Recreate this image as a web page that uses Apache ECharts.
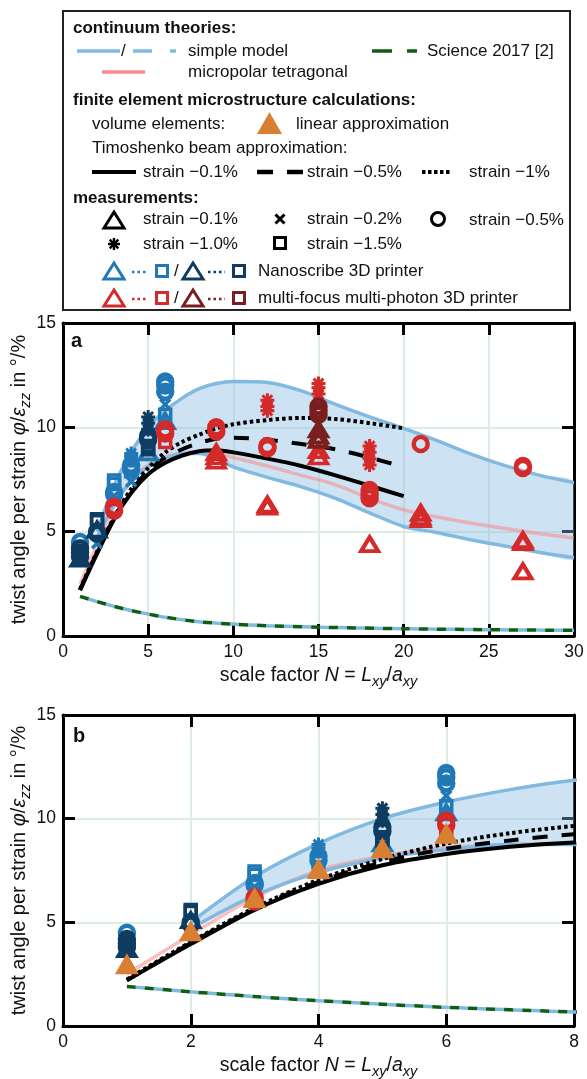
<!DOCTYPE html>
<html>
<head>
<meta charset="utf-8">
<script src="https://cdn.jsdelivr.net/npm/echarts@6/dist/echarts.min.js"></script>
<style>
html,body{margin:0;padding:0;background:#fff;}
#chart{width:587px;height:1079px;}
</style>
</head>
<body>
<div id="chart"></div>
<script>
// continuum theories
var bandN   = [2,3,4,5,6,7,8,9,10,12,14,16,18,20,22,24,26,28,30];
var bandUp  = [5.0,7.2,8.8,10.0,10.8,11.4,11.85,12.1,12.2,12.15,11.75,11.1,10.5,9.95,9.35,8.7,8.15,7.7,7.35];
var bandLow = [4.7,6.3,7.4,8.1,8.5,8.75,8.75,8.5,8.1,7.6,7.15,6.6,5.9,5.25,4.95,4.6,4.3,4.0,3.75];
var polarN  = [1,2,3,4,5,6,7,8,9,10,12,14,16,18,20,22,24,26,28,30];
var polarV  = [2.5,4.4,6.2,7.5,8.2,8.6,8.75,8.8,8.75,8.55,8.15,7.7,7.25,6.6,6.05,5.7,5.4,5.15,4.9,4.7];
var sciN    = [1,2,3,4,5,6,8,10,12,15,20,25,30];
var sciV    = [1.9,1.65,1.42,1.22,1.05,0.9,0.68,0.57,0.49,0.42,0.35,0.3,0.27];
// Timoshenko beam
var beamN   = [1,2,3,4,5,6,7,8,9,10,12,14,16,18,20];
var beam01  = [2.2,3.95,5.6,6.85,7.75,8.3,8.65,8.85,8.9,8.8,8.5,8.15,7.7,7.2,6.7];
var beam05  = [2.2,4.0,5.65,6.95,7.9,8.55,8.95,9.25,9.45,9.5,9.4,9.2,8.95,8.55,8.1];
var beam1   = [2.25,4.05,5.7,7.05,8.05,8.8,9.3,9.65,9.95,10.15,10.35,10.45,10.4,10.2,9.95];
// volume elements, linear approximation (panel b)
var volN    = [1,2,3,4,5,6];
var volV    = [3.0,4.6,6.2,7.6,8.6,9.3];
// measurements [N, twist]
var nlTri   = [[5,8.8],[6,10.3]];
var nlCross = [[2,4.45],[3,6.7],[4,7.4],[6,11.1]];
var nlCirc  = [[1,4.5],[3,6.9],[3,6.8],[4,8.2],[4,8.0],[6,12.2],[6,12.0],[6,11.7]];
var nlStar  = [[4,8.75],[4,8.6]];
var nlSq    = [[3,7.45],[3,7.3],[4,7.9],[6,10.6]];
var ndTri   = [[1,3.7],[2,5.1]];
var ndCross = [[1,3.6]];
var ndCirc  = [[1,4.2],[1,4.0],[1,3.8],[2,4.9],[2,5.0],[5,9.6],[5,9.4]];
var ndStar  = [[5,10.5],[5,10.2],[5,9.9]];
var ndSq    = [[1,4.0],[2,5.6],[2,5.5],[5,9.1],[5,8.95]];
var mrTri   = [[9,8.8],[9,8.6],[9,8.4],[12,6.3],[12,6.2],[15,8.9],[15,8.6],[18,4.4],[21,5.9],[21,5.7],[21,5.6],[27,4.6],[27,4.5],[27,3.1]];
var mrCirc  = [[3,6.0],[3,6.2],[6,9.9],[6,9.7],[9,10.0],[9,9.8],[12,9.1],[12,9.0],[18,7.0],[18,6.8],[18,6.6],[21,9.2],[27,8.15],[27,8.05]];
var mrStar  = [[12,11.3],[12,11.0],[12,10.8],[15,12.1],[15,11.9],[15,11.6],[18,9.1],[18,8.8],[18,8.5],[18,8.2]];
var mrSq    = [[6,9.3]];
var mdTri   = [[15,9.9],[15,9.6],[15,9.4]];
var mdCirc  = [[15,11.0],[15,10.8],[15,10.6]];

var FONT='"Liberation Sans", Arial, sans-serif';
var BLUE='#82b9e0', PINK='#fa8a8a', GREEN='#0b5e12', ORANGE='#d97f33';
var NL='#2178b6', ND='#0e3c62', MR='#d42a2a', MD='#7a1f1f';
var CROSS='path://M0,0L10,10M10,0L0,10';
var STAR='path://M5,0L5,10M0,5L10,5M1.5,1.5L8.5,8.5M8.5,1.5L1.5,8.5';

var myChart=echarts.init(document.getElementById('chart'));

function pairs(xs,ys){return xs.map(function(n,i){return [n,ys[i]];});}

function lineS(xs,ys,color,width,type,ax,z,offset,op){
    return {type:'line',xAxisIndex:ax,yAxisIndex:ax,data:pairs(xs,ys),showSymbol:false,smooth:0.3,silent:true,z:z,
        lineStyle:{color:color,width:width,type:type,dashOffset:offset||0,cap:'butt',opacity:op==null?1:op}};
}
function bandS(ax){
    return {type:'custom',xAxisIndex:ax,yAxisIndex:ax,clip:true,silent:true,z:1,
        data:pairs(bandN,bandUp),
        renderItem:function(params,api){
            if(params.dataIndex!==0) return;
            var pts=[];
            for(var i=0;i<bandN.length;i++) pts.push(api.coord([bandN[i],bandUp[i]]));
            for(var j=bandN.length-1;j>=0;j--) pts.push(api.coord([bandN[j],bandLow[j]]));
            return {type:'polygon',shape:{points:pts,smooth:0.3},style:{fill:'rgba(130,185,225,0.4)'}};
        }};
}
function dotS(data,color,symbol,size,ax,bw){
    return {type:'scatter',xAxisIndex:ax,yAxisIndex:ax,data:data,symbol:symbol,symbolSize:size,silent:true,z:5,
        itemStyle:{color:'rgba(0,0,0,0)',borderColor:color,borderWidth:bw,opacity:1}};
}

function nameRich(fs){
    return {n:{fontSize:fs,lineHeight:fs+8,fontFamily:FONT,color:'#111'},
        i:{fontSize:fs,lineHeight:fs+8,fontStyle:'italic',fontFamily:FONT,color:'#111'},
        s:{fontSize:fs-5,lineHeight:fs-5,fontStyle:'italic',verticalAlign:'bottom',fontFamily:FONT,color:'#111'}};
}

function xAx(g,max,iv,top){
    return {gridIndex:g,type:'value',min:0,max:max,interval:iv,position:top?'top':'bottom',
        axisLine:{onZero:false,lineStyle:{color:'#000',width:3}},
        axisTick:{inside:true,length:12,lineStyle:{color:'#000',width:3}},
        axisLabel:{show:!top,fontSize:17.5,color:'#111',fontFamily:FONT,margin:7},
        splitLine:{show:!top,lineStyle:{color:'#deede2',width:2}},
        name:top?'':'{n|scale factor }{i|N}{n| = }{i|L}{s|xy}{n|/}{i|a}{s|xy}',
        nameLocation:'middle',nameGap:26,nameTextStyle:{rich:nameRich(19.5)}};
}
function yAx(g,right){
    return {gridIndex:g,type:'value',min:0,max:15,interval:5,position:right?'right':'left',
        axisLine:{onZero:false,lineStyle:{color:'#000',width:3}},
        axisTick:{inside:true,length:12,lineStyle:{color:'#000',width:3}},
        axisLabel:{show:!right,fontSize:17.5,color:'#111',fontFamily:FONT,margin:7},
        splitLine:{show:!right,lineStyle:{color:'#deede2',width:2}},
        name:right?'':'{n|twist angle per strain }{i|φ}{n|/}{i|ε}{s|zz}{n| in °/%}',
        nameLocation:'middle',nameGap:30,nameRotate:90,nameMoveOverlap:false,nameTextStyle:{rich:nameRich(20)}};
}

// legend box drawn by hand
function T(x,y,s,bold){return {type:'text',x:x,y:y,z:101,style:{text:s,fill:'#111',fontSize:17,fontWeight:bold?'bold':'normal',fontFamily:FONT,verticalAlign:'middle'}};}
function L(x1,x2,y,c,w,dash){return {type:'line',z:101,shape:{x1:x1,y1:y,x2:x2,y2:y},style:{stroke:c,lineWidth:w,lineDash:dash||null}};}
function gTri(x,y,c,fill){return {type:'polygon',z:101,shape:{points:[[x-10,y+8],[x+10,y+8],[x,y-8]]},style:{fill:fill||'none',stroke:c,lineWidth:3}};}
function gSq(x,y,c){return {type:'rect',z:101,shape:{x:x-5.5,y:y-5.5,width:11,height:11},style:{fill:'none',stroke:c,lineWidth:3}};}
function gCirc(x,y,c){return {type:'circle',z:101,shape:{cx:x,cy:y,r:6.5},style:{fill:'none',stroke:c,lineWidth:3}};}
function gCross(x,y){return [
    {type:'line',z:101,shape:{x1:x-4.5,y1:y-4.5,x2:x+4.5,y2:y+4.5},style:{stroke:'#000',lineWidth:3}},
    {type:'line',z:101,shape:{x1:x-4.5,y1:y+4.5,x2:x+4.5,y2:y-4.5},style:{stroke:'#000',lineWidth:3}}];}
function gStar(x,y){return [
    {type:'line',z:101,shape:{x1:x,y1:y-6,x2:x,y2:y+6},style:{stroke:'#000',lineWidth:2.5}},
    {type:'line',z:101,shape:{x1:x-6,y1:y,x2:x+6,y2:y},style:{stroke:'#000',lineWidth:2.5}},
    {type:'line',z:101,shape:{x1:x-4.3,y1:y-4.3,x2:x+4.3,y2:y+4.3},style:{stroke:'#000',lineWidth:2.5}},
    {type:'line',z:101,shape:{x1:x-4.3,y1:y+4.3,x2:x+4.3,y2:y-4.3},style:{stroke:'#000',lineWidth:2.5}}];}

var legend=[
    {type:'rect',z:100,shape:{x:63,y:11,width:507,height:299},style:{fill:'#fff',stroke:'#222',lineWidth:2}},
    T(73,28,'continuum theories:',true),
    L(77,120,51,BLUE,3.5),T(121,51,'/'),L(133,152,51,BLUE,3.5),L(170,176,51,BLUE,3.5),T(188,51,'simple model'),
    L(372,392,51,GREEN,3.5),L(407,417,51,GREEN,3.5),T(427,51,'Science 2017 [2]'),
    L(102,145,72,PINK,3.5),T(188,72,'micropolar tetragonal'),
    T(73,100,'finite element microstructure calculations:',true),
    T(92,124,'volume elements:'),
    {type:'polygon',z:101,shape:{points:[[257,134],[282,134],[269.5,112]]},style:{fill:ORANGE}},
    T(296,124,'linear approximation'),
    T(92,148,'Timoshenko beam approximation:'),
    L(92,136,172,'#000',4),T(143,172,'strain \u22120.1%'),
    L(257,273,172,'#000',4.5),L(287,303,172,'#000',4.5),T(307,172,'strain \u22120.5%'),
    L(422,450,172,'#000',4,[3.5,2.5]),T(469,172,'strain \u22121%'),
    T(73,198,'measurements:',true),
    gTri(114,220,'#000'),T(143,219,'strain \u22120.1%'),
    T(307,219,'strain \u22120.2%'),gCirc(438,219,'#000'),T(469,220,'strain \u22120.5%'),
    T(143,244,'strain \u22121.0%'),gSq(280,243,'#000'),T(307,244,'strain \u22121.5%'),
    gTri(114,271,NL),L(132,147,272,NL,2.5,[2.5,3]),gSq(162,271,NL),T(174,271,'/'),
    gTri(193,271,ND),L(208,225,272,ND,2.5,[2.5,3]),gSq(239,271,ND),T(258,271,'Nanoscribe 3D printer'),
    gTri(114,298,MR),L(132,147,299,MR,2.5,[2.5,3]),gSq(162,298,MR),T(174,298,'/'),
    gTri(193,298,MD),L(208,225,299,MD,2.5,[2.5,3]),gSq(239,298,MD),T(258,298,'multi-focus multi-photon 3D printer'),
    {type:'text',x:71,y:341,z:101,style:{text:'a',fill:'#111',fontSize:20,fontWeight:'bold',fontFamily:FONT,verticalAlign:'middle'}},
    {type:'text',x:73,y:736,z:101,style:{text:'b',fill:'#111',fontSize:20,fontWeight:'bold',fontFamily:FONT,verticalAlign:'middle'}}
].concat(gCross(280,219)).concat(gStar(114,244));

var series=[];
[0,2].forEach(function(ax){
    series.push(bandS(ax));
    series.push(lineS(polarN,polarV,PINK,3.5,'solid',ax,2,0,0.55));
    series.push(lineS(bandN,bandUp,BLUE,3.5,'solid',ax,3));
    series.push(lineS(bandN,bandLow,BLUE,3.5,'solid',ax,3));
    series.push(lineS(sciN,sciV,BLUE,3.5,[9,9],ax,3,9));
    series.push(lineS(sciN,sciV,GREEN,3.5,[9,9],ax,3,0));
    series.push(lineS(beamN,beam01,'#000',4,'solid',ax,4));
    series.push(lineS(beamN,beam05,'#000',4,[15,14],ax,4));
    series.push(lineS(beamN,beam1,'#000',4,[3.5,3],ax,4));
    series.push(dotS(nlTri,NL,'triangle',[17,14],ax,4));
    series.push(dotS(nlCross,NL,CROSS,10,ax,3.5));
    series.push(dotS(nlCirc,NL,'circle',14,ax,4.5));
    series.push(dotS(nlStar,NL,STAR,14,ax,3));
    series.push(dotS(nlSq,NL,'rect',11,ax,3.5));
    series.push(dotS(ndTri,ND,'triangle',[17,14],ax,4));
    series.push(dotS(ndCross,ND,CROSS,10,ax,3.5));
    series.push(dotS(ndCirc,ND,'circle',14,ax,4.5));
    series.push(dotS(ndStar,ND,STAR,14,ax,3));
    series.push(dotS(ndSq,ND,'rect',11,ax,3.5));
    series.push(dotS(mrTri,MR,'triangle',[17,14],ax,4));
    series.push(dotS(mrCirc,MR,'circle',14,ax,4.5));
    series.push(dotS(mrStar,MR,STAR,14,ax,3));
    series.push(dotS(mrSq,MR,'rect',11,ax,3.5));
    series.push(dotS(mdTri,MD,'triangle',[17,14],ax,4));
    series.push(dotS(mdCirc,MD,'circle',14,ax,4.5));
});
series.push({type:'scatter',xAxisIndex:2,yAxisIndex:2,data:pairs(volN,volV),symbol:'triangle',symbolSize:[24,21],silent:true,z:6,
    itemStyle:{color:ORANGE,opacity:1}});

var option={
    animation:false,
    backgroundColor:'#fff',
    textStyle:{fontFamily:FONT},
    grid:[{left:63,top:323,width:511,height:313,outerBoundsMode:'none',containLabel:false},
          {left:63,top:715,width:511,height:311,outerBoundsMode:'none',containLabel:false}],
    xAxis:[xAx(0,30,5,false),xAx(0,30,5,true),xAx(1,8,2,false),xAx(1,8,2,true)],
    yAxis:[yAx(0,false),yAx(0,true),yAx(1,false),yAx(1,true)],
    graphic:legend,
    series:series
};
myChart.setOption(option);
</script>
</body>
</html>
